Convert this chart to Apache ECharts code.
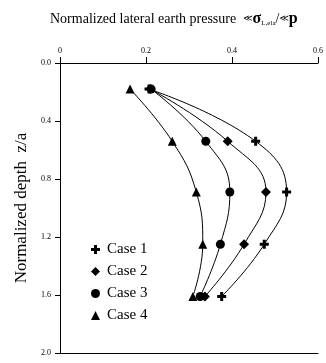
<!DOCTYPE html>
<html>
<head>
<meta charset="utf-8">
<script src="https://cdn.jsdelivr.net/npm/echarts@6/dist/echarts.min.js"></script>
<style>html,body{margin:0;padding:0;background:#fff}</style>
</head>
<body>
<div id="chart" style="width:326px;height:363px;"></div>
<script type="text/javascript">
// normalized depth z/a of each measuring level
var depth = [0.18, 0.54, 0.89, 1.25, 1.61];
var case1 = [0.207, 0.455, 0.527, 0.475, 0.376];
var case2 = [0.210, 0.390, 0.479, 0.428, 0.337];
var case3 = [0.212, 0.339, 0.395, 0.373, 0.326];
var case4 = [0.163, 0.261, 0.317, 0.332, 0.309];
var caseNames = ['Case 1', 'Case 2', 'Case 3', 'Case 4'];
var plus = 'path://M-1,-3H1V-1H3V1H1V3H-1V1H-3V-1H-1Z';
var symbols = [plus, 'diamond', 'circle', 'triangle'];
var sizes = [9, 10, 9, 9];

var font = 'Liberation Serif';
var chart = echarts.init(document.getElementById('chart'));

function pts(vals) {
    return vals.map(function (v, i) { return [v, depth[i]]; });
}

var series = [case1, case2, case3, case4].map(function (vals, k) {
    return {
        name: caseNames[k],
        type: 'line',
        data: pts(vals),
        smooth: 0.45,
        symbol: symbols[k],
        symbolSize: sizes[k],
        showAllSymbol: true,
        lineStyle: { color: '#000', width: 1 },
        itemStyle: { color: '#000' },
        xAxisIndex: 0
    };
});

var option = {
    animation: false,
    title: {
        left: 45,
        top: 6,
        text: '{n|Normalized lateral earth pressure}  {s|≪}{b|σ}{sub|L,ela}{n|/}{s|≪}{b|p}',
        textStyle: {
            fontFamily: font,
            fontSize: 14,
            fontWeight: 'normal',
            color: '#000',
            rich: {
                n: { fontSize: 14, color: '#000', fontFamily: font },
                s: { fontSize: 9, color: '#000', fontFamily: 'DejaVu Sans' },
                b: { fontSize: 16, fontWeight: 'bold', color: '#000', fontFamily: font },
                sub: { fontSize: 7, color: '#000', fontFamily: font, verticalAlign: 'bottom', padding: [6, 0, 0, 0] }
            }
        }
    },
    legend: {
        orient: 'vertical',
        left: 86,
        top: 237,
        itemGap: 7,
        itemWidth: 9,
        itemHeight: 9,
        textStyle: { fontFamily: font, fontSize: 15, color: '#000', padding: [0, 0, 0, 2] },
        data: caseNames.map(function (n, k) {
            return { name: n, icon: symbols[k], itemStyle: { color: '#000' } };
        })
    },
    grid: { left: 60, top: 63, right: 2, height: 290, containLabel: false },
    xAxis: [{
        type: 'value',
        position: 'top',
        min: 0,
        max: 0.6,
        interval: 0.2,
        axisLine: { lineStyle: { color: '#000', width: 1 } },
        axisTick: { inside: false, length: 6, lineStyle: { color: '#000' } },
        axisLabel: {
            color: '#000', fontFamily: font, fontSize: 8, margin: 8,
            formatter: function (v) { return v === 0 ? '0' : v.toFixed(1); }
        },
        splitLine: { show: false }
    }, {
        type: 'value',
        position: 'bottom',
        min: 0,
        max: 0.6,
        axisLine: { show: true, lineStyle: { color: '#000', width: 1 } },
        axisTick: { show: false },
        axisLabel: { show: false },
        splitLine: { show: false }
    }],
    yAxis: {
        type: 'value',
        inverse: true,
        min: 0,
        max: 2,
        interval: 0.4,
        name: 'Normalized depth  z/a',
        nameLocation: 'middle',
        nameRotate: 90,
        nameGap: 30,
        nameTextStyle: { fontFamily: font, fontSize: 17, color: '#000' },
        axisLine: { show: true, lineStyle: { color: '#000', width: 1 } },
        axisTick: { show: true, length: 5, lineStyle: { color: '#000' } },
        axisLabel: {
            color: '#000', fontFamily: font, fontSize: 8, margin: 9,
            formatter: function (v) { return v.toFixed(1); }
        },
        splitLine: { show: false }
    },
    series: series
};

chart.setOption(option);
</script>
</body>
</html>
